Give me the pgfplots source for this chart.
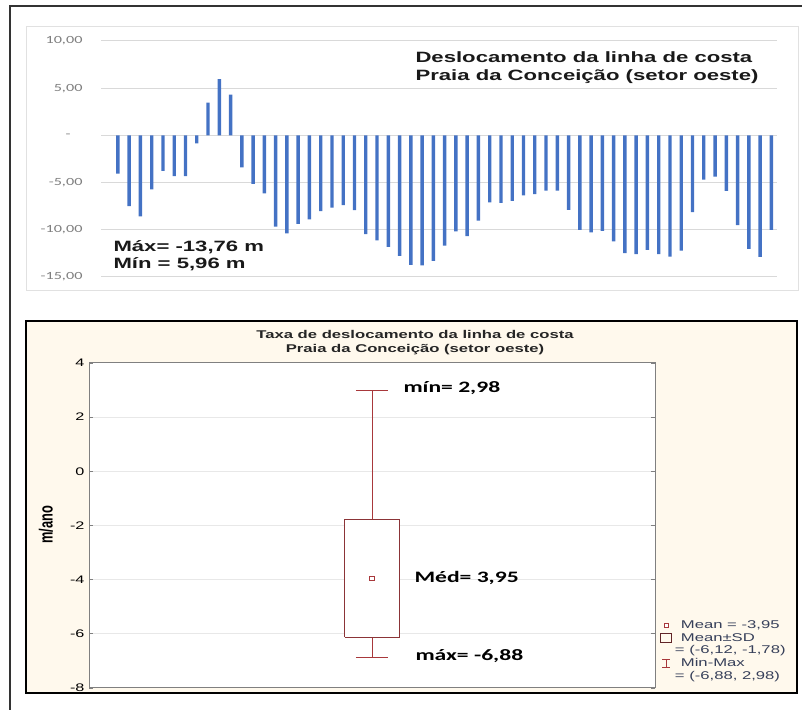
\documentclass[border=0pt]{standalone}
\usepackage{pgfplots}
\pgfplotsset{compat=1.18}
\usepackage{fontspec}
\setmainfont{Liberation Sans}
% wide (stretched) faces used for all text of the figure
\newfontfamily\arialW{Liberation Sans}[FakeStretch=1.48]
\newfontfamily\calW{Carlito}[FakeStretch=1.48]
\newfontfamily\arialN{Liberation Sans}

\definecolor{barblue}{HTML}{4472C4}
\definecolor{gridgray}{HTML}{D9D9D9}
\definecolor{ticklab}{HTML}{7F7F7F}
\definecolor{panelbg}{HTML}{FFF9ED}
\definecolor{boxred}{HTML}{A8383B}
\definecolor{boxdark}{HTML}{8B3437}
\definecolor{legtext}{HTML}{37405A}
\definecolor{framegray}{HTML}{808080}

% shoreline displacement per transect (m)
\pgfplotstableread{
x y
1 -4.04
2 -7.50
3 -8.58
4 -5.73
5 -3.76
6 -4.32
7 -4.32
8 -0.85
9 3.46
10 5.96
11 4.31
12 -3.38
13 -5.13
14 -6.15
15 -9.67
16 -10.37
17 -9.38
18 -8.90
19 -8.01
20 -7.66
21 -7.38
22 -7.91
23 -10.47
24 -11.11
25 -11.81
26 -12.76
27 -13.71
28 -13.76
29 -13.29
30 -11.67
31 -10.16
32 -10.67
33 -9.02
34 -7.10
35 -7.16
36 -6.95
37 -6.35
38 -6.21
39 -5.86
40 -5.86
41 -7.90
42 -10.00
43 -10.28
44 -10.12
45 -11.22
46 -12.46
47 -12.57
48 -12.12
49 -12.57
50 -12.85
51 -12.22
52 -8.14
53 -4.68
54 -4.38
55 -5.88
56 -9.50
57 -12.02
58 -12.88
59 -10.00
}\deslocamento

\begin{document}
\begin{tikzpicture}[x=1bp,y=1bp]

% outer frame
\draw[line width=1.5bp, black!80] (10,0) -- (10,704) -- (802,704);

% ---------------- upper panel: displacement per transect ----------------
\draw[gridgray!80, line width=1bp] (26,419) rectangle (798,683);

\begin{axis}[
  at={(101bp,433bp)}, anchor=south west,
  width=676bp, height=236bp, scale only axis,
  xmin=-0.5, xmax=59.5, ymin=-15, ymax=10,
  axis line style={draw=none},
  xtick=\empty,
  ytick={-15,-10,-5,0,5,10},
  yticklabels={{-15,00},{-10,00},{-5,00},{-\hspace*{12bp}},{5,00},{10,00}},
  ymajorgrids, grid style={gridgray, line width=1bp},
  major tick length=0pt,
  /pgf/number format/assume math mode=true,
  yticklabel style={font=\calW\fontsize{11}{13}\selectfont, text=ticklab, xshift=-15bp},
]
\addplot[ybar, bar width=3.4bp, fill=barblue, draw=none] table[x=x, y=y] {\deslocamento};
\end{axis}

\node[anchor=base west, font=\arialW\bfseries\fontsize{15}{18}\selectfont, text=black!90]
  at (412,647) {Deslocamento da linha de costa};
\node[anchor=base west, font=\arialW\bfseries\fontsize{15}{18}\selectfont, text=black!90]
  at (412,629) {Praia da Conceição (setor oeste)};
\node[anchor=base west, font=\arialW\bfseries\fontsize{15}{18}\selectfont, text=black!90]
  at (110,458.3) {Máx= -13,76 m};
\node[anchor=base west, font=\arialW\bfseries\fontsize{15}{18}\selectfont, text=black!90]
  at (110,441.3) {Mín = 5,96 m};

% ---------------- lower panel: displacement rate ----------------
\fill[panelbg] (26,17) rectangle (797,389);

\begin{axis}[
  at={(89bp,22bp)}, anchor=south west,
  width=566bp, height=325bp, scale only axis,
  xmin=0, xmax=1, ymin=-8, ymax=4,
  axis background/.style={fill=white},
  axis line style={framegray, line width=1bp},
  xtick=\empty,
  ytick={-8,-6,...,4},
  ytick pos=both, tick align=inside,
  major tick length=4bp,
  tick style={framegray, line width=0.8bp},
  ymajorgrids, grid style={black!9, line width=1bp},
  /pgf/number format/assume math mode=true,
  yticklabel style={font=\arialW\fontsize{11}{13}\selectfont, text=black, xshift=-1bp},
  legend style={at={(axis description cs:1,0.212)}, anchor=north west,
    xshift=5bp, draw=none, fill=none, inner sep=0pt, outer sep=0pt,
    font=\arialW\fontsize{11.3}{12.75}\selectfont, text=legtext,
    row sep=0pt, column sep=0pt,
    nodes={inner sep=1bp, text height=8.3bp, text depth=2.45bp},
    /tikz/every odd column/.append style={column sep=8bp}},
  legend cell align=left,
]
% whiskers (min-max)
\addplot[boxred, line width=1bp, forget plot] coordinates {(0.5,2.98) (0.5,-1.78)};
\addplot[boxred, line width=1bp, forget plot] coordinates {(0.5,-6.12) (0.5,-6.88)};
\addplot[boxred, line width=1bp, forget plot] coordinates {(0.4717,2.98) (0.5283,2.98)};
\addplot[boxred, line width=1bp, forget plot] coordinates {(0.4717,-6.88) (0.5283,-6.88)};
% mean +- SD box
\addplot[boxdark, line width=1bp, fill=white, forget plot] coordinates
  {(0.4514,-6.12) (0.5486,-6.12) (0.5486,-1.78) (0.4514,-1.78) (0.4514,-6.12)};
% mean
\addplot[only marks, mark=square, mark size=2.3bp, mark options={draw=boxred, fill=white, line width=0.9bp}, forget plot]
  coordinates {(0.5,-3.95)};

\addlegendimage{legend image code/.code={\draw[boxred, line width=0.9bp, fill=white] (3.6bp,-2.2bp) rectangle (8.0bp,2.2bp);}}
\addlegendentry{Mean = -3,95}
\addlegendimage{legend image code/.code={\draw[boxdark!70!black, line width=0.9bp] (0bp,-4.5bp) rectangle (11bp,4.5bp);}}
\addlegendentry{Mean±SD}
\addlegendimage{empty legend}
\addlegendentry{\hspace*{-6bp}= (-6,12, -1,78)}
\addlegendimage{legend image code/.code={\draw[boxred, line width=0.9bp] (2bp,-4bp) -- (10bp,-4bp) (2bp,4bp) -- (10bp,4bp) (6bp,-4bp) -- (6bp,4bp);}}
\addlegendentry{Min-Max}
\addlegendimage{empty legend}
\addlegendentry{\hspace*{-6bp}= (-6,88, 2,98)}
\end{axis}

\draw[black, line width=1.5bp] (26,17) rectangle (797,389);

\node[align=center, font=\arialW\bfseries\fontsize{11.3}{14}\selectfont, text=black!85, anchor=base]
  at (415,371.7) {Taxa de deslocamento da linha de costa};
\node[align=center, font=\arialW\bfseries\fontsize{11.3}{14}\selectfont, text=black!85, anchor=base]
  at (415,357.7) {Praia da Conceição (setor oeste)};
% y-axis title, widened across its strokes like the rest of the text
\begin{scope}[xscale=1.48]
  \node[rotate=90, transform shape, font=\arialN\bfseries\fontsize{12.9}{15}\selectfont]
    at (46/1.48,185) {m/ano};
\end{scope}

\node[anchor=base west, font=\calW\bfseries\fontsize{16}{19}\selectfont] at (400,317.3) {mín= 2,98};
\node[anchor=base west, font=\calW\bfseries\fontsize{16}{19}\selectfont] at (411,127.3) {Méd= 3,95};
\node[anchor=base west, font=\calW\bfseries\fontsize{16}{19}\selectfont] at (412,49.3) {máx= -6,88};

% page extent
\pgfresetboundingbox
\useasboundingbox (0,0) rectangle (802,710);
\end{tikzpicture}
\end{document}
